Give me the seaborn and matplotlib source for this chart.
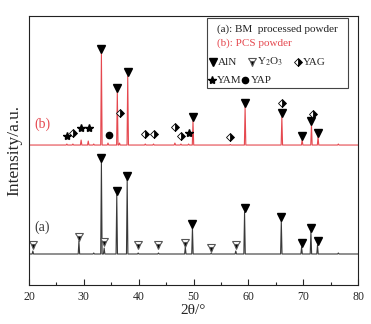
import numpy as np
import pandas as pd
import matplotlib
matplotlib.use("Agg")
import matplotlib.pyplot as plt
import seaborn as sns
from matplotlib.patches import Rectangle

# ---------------- data ----------------
# (a) BM processed powder: peak positions (2theta) and relative heights
a_pos = [20.7, 29.1, 31.8, 33.2, 33.7, 36.0, 37.9, 39.9, 43.6, 48.5, 49.8, 53.2, 57.7, 59.3, 66.0, 69.7, 71.4, 72.6, 76.4]
a_int = [3, 13, 1, 92, 6, 59, 74, 1, 1, 7, 26, 0.7, 3, 42, 33, 7, 22, 9, 1]
# (b) PCS powder
b_pos = [26.9, 28.0, 29.5, 30.8, 31.8, 33.2, 34.4, 36.1, 36.5, 38.0, 41.2, 42.7, 46.6, 47.7, 49.1, 49.9, 56.7, 59.4, 66.1, 69.8, 71.5, 72.7, 76.4]
b_int = [1, 1, 5, 4, 1, 92, 2, 53, 2, 69, 1, 1, 2, 1, 1, 24, 0.5, 38, 28, 5, 20, 8, 1]

a_offset = 31
b_offset = 140

# phase identification markers
aln_a = [33.2, 36.0, 37.9, 49.8, 59.3, 66.0, 69.7, 71.4, 72.6]
y2o3_a = [20.7, 29.1, 33.7, 39.9, 43.6, 48.5, 53.2, 57.7]
y2o3_a_lvl = [40, 48, 43, 40, 40, 42, 37, 40]
aln_b = [33.2, 36.1, 38.0, 49.9, 59.4, 66.1, 69.8, 71.5, 72.7]
yag_b = [28.0, 36.6, 41.2, 42.7, 46.6, 47.7, 56.7, 66.2, 71.7]
yag_b_lvl = [152, 172, 151, 151, 158, 149, 148, 182, 171]
yam_b = [26.9, 29.5, 30.9, 49.1]
yam_b_lvl = [149, 157, 157, 152]
yap_b = [34.5]
yap_b_lvl = [150]

xticks = [20, 30, 40, 50, 60, 70, 80]

# ---------------- build traces ----------------
HW = 0.13


def trace(pos, ints, off, name):
    xs, ys = [20.0], [off]
    for p, h in sorted(zip(pos, ints)):
        xs += [p - HW, p, p + HW]
        ys += [off, off + h, off]
    xs.append(80.0)
    ys.append(off)
    return pd.DataFrame({"x": xs, "y": ys, "sample": name})


df = pd.concat([trace(a_pos, a_int, a_offset, "a"), trace(b_pos, b_int, b_offset, "b")],
               ignore_index=True)

sns.set_style("ticks")
plt.rcParams["font.family"] = ["Liberation Serif", "DejaVu Serif"]
plt.rcParams["mathtext.fontset"] = "stix"

RED = "#e5484f"
DARK = "#3a3a3a"

fig = plt.figure(figsize=(3.71, 3.24), dpi=100)
ax = fig.add_axes([0.0782, 0.1204, 0.887, 0.830])

sns.lineplot(data=df, x="x", y="y", hue="sample", sort=False, estimator=None,
             palette={"a": DARK, "b": RED}, linewidth=0.8, legend=False, ax=ax)

ha = dict(zip(a_pos, a_int))
hb = dict(zip(b_pos, b_int))
GAP = 4

aln_style = dict(marker="v", ms=5.3, color="black", ls="none", mec="black")
y2o3_style = dict(marker="v", ms=5.3, ls="none", mfc="black", mfcalt="white",
                  fillstyle="bottom", mec="#555555", mew=0.8)
yag_style = dict(marker="D", ms=4, ls="none", mfc="black", mfcalt="white",
                 fillstyle="right", mec="black", mew=0.6)
yam_style = dict(marker="*", ms=6, ls="none", color="black")
yap_style = dict(marker="o", ms=4.5, ls="none", mfc="black", mec="black")

ax.plot(aln_a, [a_offset + ha[p] + GAP for p in aln_a], **aln_style)
ax.plot(y2o3_a, y2o3_a_lvl, **y2o3_style)
ax.plot(aln_b, [b_offset + hb[p] + GAP for p in aln_b], **aln_style)
ax.plot(yag_b, yag_b_lvl, **yag_style)
ax.plot(yam_b, yam_b_lvl, **yam_style)
ax.plot(yap_b, yap_b_lvl, **yap_style)

ax.set_xlim(20, 80)
ax.set_ylim(0, 269)
ax.set_xticks(xticks)
ax.set_xticklabels([str(t) for t in xticks], fontsize=8.5)
ax.set_xticks([25, 35, 45, 55, 65, 75], minor=True)
ax.tick_params(axis="x", which="major", direction="in", length=4, width=0.8, pad=4)
ax.tick_params(axis="x", which="minor", direction="in", length=2.5, width=0.8)
ax.set_yticks([])
ax.set_xlabel("2θ/°", fontsize=11, labelpad=1)
ax.set_ylabel("Intensity/a.u.", fontsize=12.5, labelpad=5)
for s in ax.spines.values():
    s.set_linewidth(0.8)
    s.set_color("#222222")

ax.text(20.9, 161, "(b)", color=RED, fontsize=10, va="center")
ax.text(20.9, 58, "(a)", color=DARK, fontsize=10, va="center")

# legend box
ax.add_patch(Rectangle((0.541, 0.732), 0.429, 0.261, transform=ax.transAxes,
                       fill=False, ec="#444444", lw=0.8))
ax.text(0.571, 0.952, "(a): BM  processed powder", transform=ax.transAxes,
        fontsize=8, va="center", color="#222222")
ax.text(0.571, 0.900, "(b): PCS powder", transform=ax.transAxes,
        fontsize=8, va="center", color=RED)
ly1, ly2 = 0.829, 0.762
ax.plot([0.559], [ly1], transform=ax.transAxes, **aln_style)
ax.text(0.574, ly1, "AlN", transform=ax.transAxes, fontsize=8, va="center")
ax.plot([0.678], [ly1], transform=ax.transAxes, **y2o3_style)
ax.text(0.693, ly1, "Y$_2$O$_3$", transform=ax.transAxes, fontsize=8, va="center")
ax.plot([0.817], [ly1], transform=ax.transAxes, **yag_style)
ax.text(0.831, ly1, "YAG", transform=ax.transAxes, fontsize=8, va="center")
ax.plot([0.556], [ly2], transform=ax.transAxes, **yam_style)
ax.text(0.572, ly2, "YAM", transform=ax.transAxes, fontsize=8, va="center")
ax.plot([0.657], [ly2], transform=ax.transAxes, **yap_style)
ax.text(0.675, ly2, "YAP", transform=ax.transAxes, fontsize=8, va="center")

fig.savefig("out.png", dpi=100)
